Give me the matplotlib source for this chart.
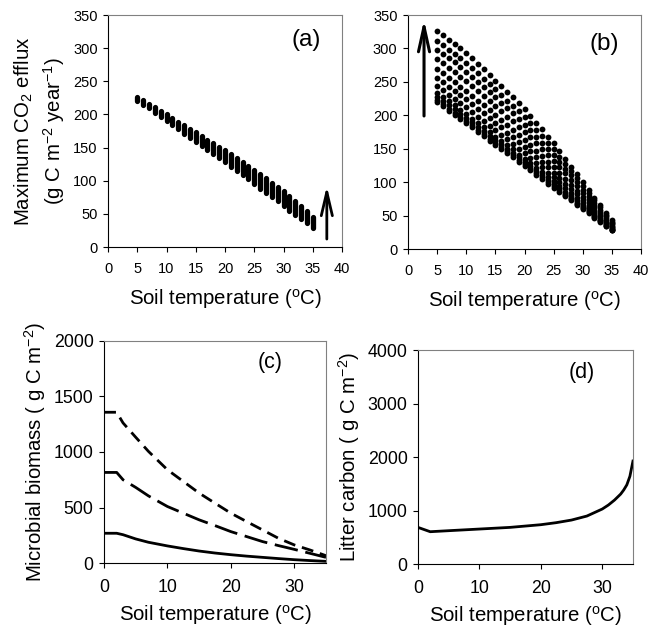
import matplotlib
matplotlib.use('Agg')
import matplotlib.pyplot as plt

plt.rcParams['font.family'] = ['Liberation Sans', 'DejaVu Sans']
plt.rcParams['mathtext.default'] = 'regular'

# soil temperature for panels (a) and (b)
T_ab = list(range(5, 36))

# panel (a): spread of max CO2 efflux at each temperature
a_low = [221, 215, 209, 202, 196, 190, 184, 178, 171, 165, 159, 153, 147, 140, 134, 128,
         121, 115, 108, 102, 95, 88, 82, 75, 69, 62, 55, 49, 42, 36, 29]
a_high = [227, 222, 216, 211, 205, 200, 195, 189, 184, 178, 173, 168, 162, 157, 151, 146,
          140, 134, 128, 122, 116, 110, 104, 97, 91, 85, 77, 69, 62, 54, 46]

# panel (b): one row of dots per parameter level
b_levels = [
    [220, 214, 207, 201, 194, 188, 182, 175, 169, 162, 156, 150, 143, 137, 130, 124, 118, 111, 105, 98, 92, 86, 79, 73, 66, 60, 54, 47, 41, 34, 28],
    [223, 217, 210, 204, 197, 191, 185, 178, 172, 165, 159, 153, 146, 140, 133, 127, 120, 113, 107, 100, 94, 88, 81, 75, 67, 61, 55, 48, 42, 35, 28],
    [228, 222, 215, 209, 202, 196, 190, 183, 177, 169, 163, 157, 150, 144, 137, 130, 124, 117, 111, 103, 97, 91, 83, 77, 69, 63, 57, 49, 43, 36, 29],
    [234, 228, 221, 215, 208, 202, 195, 188, 182, 175, 168, 162, 155, 149, 141, 135, 129, 121, 115, 107, 101, 94, 86, 80, 72, 65, 59, 51, 44, 37, 30],
    [244, 238, 231, 225, 218, 212, 205, 198, 192, 184, 178, 171, 164, 157, 150, 143, 136, 129, 122, 114, 107, 100, 92, 84, 76, 69, 62, 54, 47, 39, 31],
    [256, 250, 243, 237, 230, 224, 217, 210, 203, 196, 189, 182, 174, 168, 160, 153, 146, 138, 130, 122, 114, 106, 98, 90, 82, 74, 66, 57, 50, 41, 33],
    [269, 263, 256, 250, 243, 236, 229, 222, 215, 208, 200, 193, 185, 178, 170, 163, 155, 147, 139, 130, 122, 114, 105, 96, 87, 78, 70, 61, 53, 43, 35],
    [284, 278, 271, 265, 258, 251, 244, 236, 229, 221, 214, 206, 198, 191, 183, 175, 167, 158, 149, 140, 132, 122, 113, 103, 94, 84, 75, 65, 56, 46, 37],
    [298, 292, 285, 279, 272, 265, 258, 250, 243, 235, 227, 219, 211, 203, 195, 186, 178, 168, 159, 149, 141, 130, 120, 110, 100, 89, 80, 69, 59, 49, 39],
    [311, 305, 298, 292, 285, 278, 271, 263, 255, 247, 239, 231, 222, 214, 206, 197, 188, 178, 169, 158, 149, 138, 127, 116, 106, 94, 84, 73, 63, 51, 41],
    [326, 320, 313, 307, 300, 293, 285, 277, 269, 261, 252, 244, 235, 227, 218, 209, 199, 189, 179, 168, 158, 146, 135, 123, 112, 100, 89, 77, 66, 54, 43],
]

# panel (c): microbial biomass, three cases
T_c = [0, 2, 3, 5, 7, 10, 12.5, 15, 17.5, 20, 22.5, 25, 27.5, 30, 32.5, 35]
c_top = [1358, 1358, 1262, 1133, 1006, 840, 735, 630, 539, 449, 373, 298, 223, 163, 117, 66]
c_mid = [816, 816, 750, 681, 605, 509, 449, 389, 337, 283, 238, 193, 157, 123, 87, 51]
c_low = [268, 268, 255, 217, 187, 154, 130, 108, 90, 75, 62, 51, 40, 30, 22, 15]

# panel (d): litter carbon
T_d = [0, 2, 5, 10, 15, 20, 22.5, 25, 27.5, 30, 31, 32, 33, 33.5, 34, 34.5, 35]
d_litter = [685, 604, 623, 654, 685, 735, 773, 822, 897, 1028, 1103, 1196, 1308, 1385, 1480, 1640, 1925]

xlab = 'Soil temperature ($^{o}$C)'
lab_fs = 14.7


def style(ax, fs, xpad):
    for s in ['top', 'right']:
        ax.spines[s].set_color('#808080')
    for s in ax.spines:
        ax.spines[s].set_linewidth(0.8)
    ax.tick_params(direction='out', length=3.5, width=0.8, labelsize=fs, pad=4)
    ax.tick_params(axis='x', pad=xpad)


fig = plt.figure(figsize=(6.5, 6.29), dpi=100)

ax1 = fig.add_axes([0.1662, 0.6073, 0.36, 0.3688])
ax1.vlines(T_ab, a_low, a_high, colors='k', linewidth=3.8, capstyle='round')
ax1.annotate('', xy=(37.4, 92), xytext=(37.4, 12),
             arrowprops=dict(arrowstyle='->,head_length=0.85,head_width=0.2',
                             lw=2.0, color='k', mutation_scale=20, shrinkA=0, shrinkB=0))
ax1.set_xlim(0, 40)
ax1.set_ylim(0, 350)
ax1.set_xticks(range(0, 41, 5))
ax1.set_yticks(range(0, 351, 50))
ax1.set_xlabel(xlab, fontsize=lab_fs, labelpad=8)
ax1.set_ylabel('Maximum CO$_2$ efflux\n(g C m$^{-2}$ year$^{-1}$)', fontsize=lab_fs, linespacing=1.35)
ax1.text(0.846, 0.892, '(a)', transform=ax1.transAxes, fontsize=17.5, ha='center', va='center')
style(ax1, 10.5, 7)

ax2 = fig.add_axes([0.6277, 0.6041, 0.3585, 0.372])
for row in b_levels:
    ax2.plot(T_ab, row, 'o', color='k', markersize=4.2, markeredgewidth=0)
ax2.annotate('', xy=(2.75, 343), xytext=(2.75, 199),
             arrowprops=dict(arrowstyle='->,head_length=0.9,head_width=0.2',
                             lw=2.2, color='k', mutation_scale=20, shrinkA=0, shrinkB=0))
ax2.set_xlim(0, 40)
ax2.set_ylim(0, 350)
ax2.set_xticks(range(0, 41, 5))
ax2.set_yticks(range(0, 351, 50))
ax2.set_xlabel(xlab, fontsize=lab_fs, labelpad=8)
ax2.text(0.841, 0.878, '(b)', transform=ax2.transAxes, fontsize=17.5, ha='center', va='center')
style(ax2, 10.5, 7)

ax3 = fig.add_axes([0.16, 0.1049, 0.3415, 0.353])
ax3.plot(T_c, c_top, color='k', lw=2.0, linestyle=(0, (4.3, 2.5)))
ax3.plot(T_c, c_mid, color='k', lw=2.0, linestyle=(0, (8.5, 2.8)))
ax3.plot(T_c, c_low, color='k', lw=2.0)
ax3.set_xlim(0, 35)
ax3.set_ylim(0, 2000)
ax3.set_xticks([0, 10, 20, 30])
ax3.set_yticks(range(0, 2001, 500))
ax3.set_xlabel(xlab, fontsize=lab_fs, labelpad=5)
ax3.set_ylabel('Microbial biomass ( g C m$^{-2}$)', fontsize=lab_fs)
ax3.text(0.748, 0.903, '(c)', transform=ax3.transAxes, fontsize=15.5, ha='center', va='center')
style(ax3, 12.8, 8)

ax4 = fig.add_axes([0.643, 0.1033, 0.3308, 0.3402])
ax4.plot(T_d, d_litter, color='k', lw=2.0)
ax4.set_xlim(0, 35)
ax4.set_ylim(0, 4000)
ax4.set_xticks([0, 10, 20, 30])
ax4.set_yticks(range(0, 4001, 1000))
ax4.set_xlabel(xlab, fontsize=lab_fs, labelpad=5)
ax4.set_ylabel('Litter carbon ( g C m$^{-2}$)', fontsize=lab_fs)
ax4.text(0.763, 0.895, '(d)', transform=ax4.transAxes, fontsize=15.5, ha='center', va='center')
style(ax4, 12.8, 8)

fig.savefig('out.png', dpi=100)
